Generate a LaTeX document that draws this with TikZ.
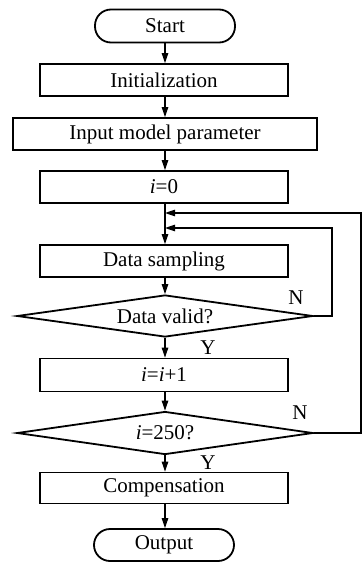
\documentclass[tikz,border=0pt]{standalone}
\usepackage{fontspec}
\setmainfont{Liberation Serif}
\usetikzlibrary{shapes.geometric,arrows.meta}
\begin{document}
\begin{tikzpicture}[x=1pt,y=-1pt, font=\fontsize{21}{25}\selectfont,
 box/.style={draw, line width=1.8pt, minimum width=248pt, minimum height=32pt, inner sep=0pt},
 term/.style={draw, line width=1.8pt, minimum width=140pt, minimum height=33pt, rounded corners=16pt, inner sep=0pt},
 dec/.style={draw, diamond, line width=1.8pt, aspect=7, minimum width=296pt, minimum height=42pt, inner sep=0pt},
 flow/.style={line width=1.1pt, -{Triangle[length=10pt,width=6.5pt]}},
 lbl/.style={inner sep=0pt}]
\useasboundingbox (0,0) rectangle (364,563);
\node[term] (start) at (165,26) {Start};
\node[box] (init) at (164,80) {Initialization};
\node[box, minimum width=304pt] (input) at (165,134) {Input model parameter};
\node[box] (i0) at (164,187) {\textit{i}=0};
\node[box] (samp) at (164,261) {Data sampling};
\node[dec] (valid) at (165,316) {Data valid?};
\node[box, minimum height=33pt] (inc) at (164,375) {\textit{i}=\textit{i}+1};
\node[dec, minimum height=43pt] (d250) at (165,433) {\textit{i}=250?};
\node[box, minimum height=31pt] (comp) at (164,488) {Compensation};
\node[term, minimum height=32pt] (out) at (164,545) {Output};
\node[lbl] (n1) at (296,298) {N};
\node[lbl] (n2) at (300,413) {N};
\node[lbl] (y1) at (208,348) {Y};
\node[lbl] (y2) at (208,463) {Y};
\coordinate (j2) at (165,213);
\coordinate (j1) at (165,228);
\coordinate (r1) at (332,316);
\coordinate (r2) at (361,433);
\draw[flow] (start.south -| 165,0) -- (init.north -| 165,0);
\draw[flow] (init.south -| 165,0) -- (input.north -| 165,0);
\draw[flow] (input.south -| 165,0) -- (i0.north -| 165,0);
\draw[flow] (i0.south -| 165,0) -- (samp.north -| 165,0);
\draw[flow] (samp.south -| 165,0) -- (valid.north);
\draw[flow] (valid.south) -- (inc.north -| 165,0);
\draw[flow] (inc.south -| 165,0) -- (d250.north);
\draw[flow] (d250.south) -- (comp.north -| 165,0);
\draw[flow] (comp.south -| 165,0) -- (out.north -| 165,0);
\draw[flow] (valid.east) -- (r1) |- (j1);
\draw[flow] (d250.east) -- (r2) |- (j2);
\end{tikzpicture}
\end{document}
